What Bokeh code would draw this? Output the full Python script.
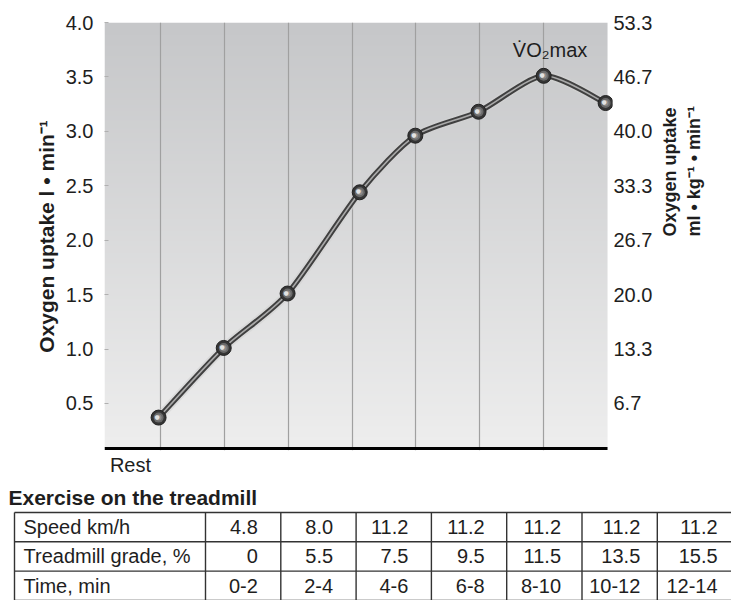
import math
import numpy as np
from bokeh.plotting import figure
from bokeh.models import Range1d, FixedTicker, LinearAxis
from bokeh.embed import file_html
from bokeh.resources import INLINE
from bokeh.core.properties import value

# ---------------- data ----------------
stage_x = [-0.03, 0.99, 1.99, 3.12, 3.99, 4.98, 6.0, 6.97]
uptake = [0.37, 1.01, 1.51, 2.44, 2.96, 3.18, 3.51, 3.26]
grid_x = [0, 1, 2, 3, 4, 5, 6]
left_ticks = [0.5, 1.0, 1.5, 2.0, 2.5, 3.0, 3.5, 4.0]
left_labels = ["0.5", "1.0", "1.5", "2.0", "2.5", "3.0", "3.5", "4.0"]
right_labels = ["6.7", "13.3", "20.0", "26.7", "33.3", "40.0", "46.7", "53.3"]
rest_tick = [-0.47]
rest_label = ["Rest"]
peak_label = "V\u0307O\u2082max"
left_title = "Oxygen uptake l \u2022 min\u207b\u00b9"
right_title = "Oxygen uptake\nml \u2022 kg\u207b\u00b9 \u2022 min\u207b\u00b9"

table_title = "Exercise on the treadmill"
row_names = ["Speed km/h", "Treadmill grade, %", "Time, min"]
speed = ["4.8", "8.0", "11.2", "11.2", "11.2", "11.2", "11.2"]
grade = ["0", "5.5", "7.5", "9.5", "11.5", "13.5", "15.5"]
time_min = ["0-2", "2-4", "4-6", "6-8", "8-10", "10-12", "12-14"]

FONT = "Liberation Sans"
TXT = "#1e1e1e"
W = 731
H1 = 482
H2 = 600 - H1
PX_PER_X = 63.86

x_lo, x_panel_hi = -0.877, float(len(grid_x))
frame_left, frame_right = 104, 612
x_hi = x_lo + (frame_right - frame_left) / PX_PER_X
y_lo, y_hi = 0.086, 4.0
y_frame_lo = y_lo - 2.0 / 108.85

# ---------------- chart ----------------
p = figure(width=W, height=H1, x_range=Range1d(x_lo, x_hi), y_range=Range1d(y_frame_lo, y_hi),
           output_backend="svg", toolbar_location=None,
           min_border_left=frame_left, min_border_right=W - frame_right,
           min_border_top=22, min_border_bottom=32,
           background_fill_color="white", border_fill_color="white", outline_line_color=None)

# gradient background panel (style only)
n = 256
tt = np.linspace(0.0, 1.0, n)
top_c = np.array([198, 199, 201], dtype=float)
bot_c = np.array([238, 238, 238], dtype=float)
cols = bot_c[None, :] + (top_c - bot_c)[None, :] * tt[:, None]
img = np.zeros((n, 1), dtype=np.uint32)
view = img.view(dtype=np.uint8).reshape((n, 1, 4))
view[:, 0, 0] = cols[:, 0].astype(np.uint8)
view[:, 0, 1] = cols[:, 1].astype(np.uint8)
view[:, 0, 2] = cols[:, 2].astype(np.uint8)
view[:, 0, 3] = 255
p.image_rgba(image=[img], x=x_lo, y=y_lo, dw=x_panel_hi - x_lo, dh=y_hi - y_lo, level="image")

# grids
p.ygrid.visible = False
p.xgrid.ticker = FixedTicker(ticks=grid_x)
p.xgrid.grid_line_color = "#a0a0a0"
p.xgrid.grid_line_width = 1.2

# baseline
p.segment(x0=[x_lo], y0=[y_lo], x1=[x_panel_hi], y1=[y_lo], line_color="black", line_width=3)

# bottom axis
xa = p.xaxis[0]
xa.ticker = FixedTicker(ticks=rest_tick)
xa.major_label_overrides = dict(zip(rest_tick, rest_label))
xa.axis_line_color = None
xa.major_tick_line_color = None
xa.minor_tick_line_color = None
xa.major_label_standoff = -3
xa.major_label_text_font = FONT
xa.major_label_text_font_size = "20px"
xa.major_label_text_color = TXT

# left axis
ya = p.yaxis[0]
ya.ticker = FixedTicker(ticks=left_ticks)
ya.major_label_overrides = dict(zip(left_ticks, left_labels))
ya.axis_line_color = None
ya.major_tick_in = 4
ya.major_tick_out = 0
ya.major_tick_line_color = "#b0b0b0"
ya.minor_tick_line_color = None
ya.major_label_standoff = 11
ya.major_label_text_font = FONT
ya.major_label_text_font_size = "20px"
ya.major_label_text_color = TXT
ya.axis_label = left_title
ya.axis_label_text_font = FONT
ya.axis_label_text_font_style = "bold"
ya.axis_label_text_font_size = "21px"
ya.axis_label_text_color = TXT
ya.axis_label_standoff = 5

# right axis
ra = LinearAxis(ticker=FixedTicker(ticks=left_ticks),
                major_label_overrides=dict(zip(left_ticks, right_labels)))
ra.axis_line_color = None
ra.major_tick_line_color = None
ra.major_tick_in = 0
ra.major_tick_out = 0
ra.minor_tick_line_color = None
ra.minor_tick_in = 0
ra.minor_tick_out = 0
ra.major_label_standoff = 1
ra.major_label_text_font = FONT
ra.major_label_text_font_size = "20px"
ra.major_label_text_color = TXT
ra.axis_label = right_title
ra.axis_label_text_font = FONT
ra.axis_label_text_font_style = "bold"
ra.axis_label_text_font_size = "18px"
ra.axis_label_text_color = TXT
ra.axis_label_text_line_height = 1.2
ra.axis_label_standoff = 27
try:
    ra.axis_label_orientation = math.pi / 2
except Exception:
    pass
p.add_layout(ra, "right")

# smooth tube curve through the points (low-tension Catmull-Rom control points)
k_t = 1.0 / 8.0
xs = np.array(stage_x, dtype=float)
ys = np.array(uptake, dtype=float)
m = len(xs)
xp = np.concatenate([[xs[0]], xs, [xs[-1]]])
yp = np.concatenate([[ys[0]], ys, [ys[-1]]])
bx0, by0, bx1, by1, cx0, cy0, cx1, cy1 = [], [], [], [], [], [], [], []
for i in range(m - 1):
    bx0.append(xs[i]); by0.append(ys[i]); bx1.append(xs[i + 1]); by1.append(ys[i + 1])
    cx0.append(xs[i] + (xp[i + 2] - xp[i]) * k_t)
    cy0.append(ys[i] + (yp[i + 2] - yp[i]) * k_t)
    cx1.append(xs[i + 1] - (xp[i + 3] - xp[i + 1]) * k_t)
    cy1.append(ys[i + 1] - (yp[i + 3] - yp[i + 1]) * k_t)

p.bezier(x0=bx0, y0=by0, x1=bx1, y1=by1, cx0=cx0, cy0=cy0, cx1=cx1, cy1=cy1,
         line_color="#d2d2d2", line_width=9, line_alpha=0.6, line_cap="round")
p.bezier(x0=bx0, y0=by0, x1=bx1, y1=by1, cx0=cx0, cy0=cy0, cx1=cx1, cy1=cy1,
         line_color="#404040", line_width=5.5, line_cap="round")
p.bezier(x0=bx0, y0=by0, x1=bx1, y1=by1, cx0=cx0, cy0=cy0, cx1=cx1, cy1=cy1,
         line_color="#a9a9a9", line_width=1.6, line_cap="round")

# spheres
p.scatter(stage_x, uptake, size=15, fill_color="#353535", line_color="#222222", line_width=1)
p.scatter(stage_x, uptake, size=10, fill_color="#6a6a6a", line_color=None)
p.scatter(stage_x, uptake, size=6, fill_color="#8a8a8a", line_color=None)
p.text(x=stage_x, y=uptake, text=["\u25cf"] * m, x_offset=-1.5, y_offset=-1.5,
       text_font=value("DejaVu Sans"), text_font_size="6px", text_color="#e2e2e2",
       text_align="center", text_baseline="middle")

# VO2max label
pk = int(np.argmax(ys))
p.text(x=[xs[pk] + 0.1], y=[ys[pk] + 0.24], text=[peak_label],
       text_font=value(FONT), text_font_size="20px", text_color=TXT,
       text_align="center", text_baseline="middle")

# ---------------- table ----------------
t = figure(width=W, height=H2, x_range=Range1d(0, W), y_range=Range1d(H2, 0),
           output_backend="svg", toolbar_location=None, min_border=0,
           x_axis_location=None, y_axis_location=None, outline_line_color=None,
           background_fill_color="white", border_fill_color="white")
t.grid.visible = False

title_x, title_y = 8, 15
tab_top = 30
row_h = 29.3
left_edge = 14
first_w = 191
col_w = 75.3
cell_pad = [23, 23, 23, 22, 21, 17, 15]
n_rows = len(row_names)
n_cols = len(speed)

t.text(x=[title_x], y=[title_y], text=[table_title], text_font=value(FONT), text_font_style="bold",
       text_font_size="21px", text_color=TXT, text_align="left", text_baseline="middle")

h_y = [tab_top + k * row_h for k in range(n_rows + 1)]
t.segment(x0=[left_edge] * len(h_y), y0=h_y, x1=[W + 5] * len(h_y), y1=h_y,
          line_color="#333333", line_width=1.4)
v_x = [left_edge, left_edge + first_w] + [left_edge + first_w + (k + 1) * col_w for k in range(n_cols)]
t.segment(x0=v_x, y0=[tab_top] * len(v_x), x1=v_x, y1=[tab_top + n_rows * row_h + 5] * len(v_x),
          line_color="#333333", line_width=1.4)

rows = [speed, grade, time_min]
for r, (name, vals) in enumerate(zip(row_names, rows)):
    cy = tab_top + (r + 0.5) * row_h
    t.text(x=[left_edge + 9], y=[cy], text=[name], text_font=value(FONT), text_font_size="20px",
           text_color=TXT, text_align="left", text_baseline="middle")
    vx = [left_edge + first_w + (k + 1) * col_w - cell_pad[k] for k in range(n_cols)]
    t.text(x=vx, y=[cy] * n_cols, text=vals, text_font=value(FONT), text_font_size="20px",
           text_color=TXT, text_align="right", text_baseline="middle")

open("out.html", "w").write(file_html([p, t], INLINE))
